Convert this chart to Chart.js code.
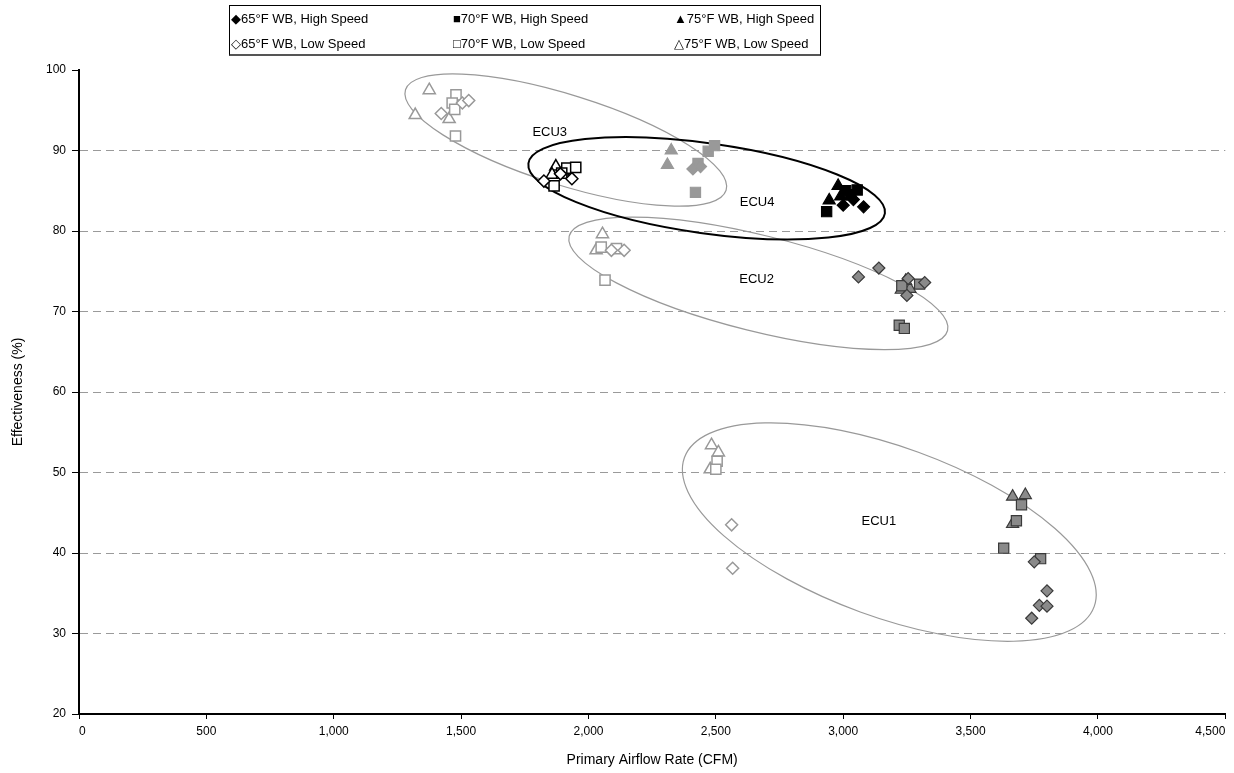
<!DOCTYPE html>
<html>
<head>
<meta charset="utf-8">
<script src="https://cdn.jsdelivr.net/npm/chart.js@4.4.1/dist/chart.umd.min.js"></script>
<style>
  html, body { margin: 0; padding: 0; background: #fff; overflow: hidden; }
  #wrap { position: relative; width: 1234px; height: 773px; overflow: hidden; }
  #chart { position: absolute; left: 0; top: 0; }
  #legend {
    position: absolute; left: 229px; top: 5px; width: 592px; height: 51px;
    border: 1px solid #000; border-bottom: 2px solid #555;
    font-family: "Liberation Sans", Arial, sans-serif; font-size: 13px; color: #000;
    display: grid; grid-template-columns: 222px 221px 147px; grid-template-rows: 25px 25px;
    align-items: center; box-sizing: border-box; padding-left: 1px;
  }
  #legend span { white-space: nowrap; }
</style>
</head>
<body>
<div id="wrap">
  <canvas id="chart" width="1234" height="773" style="width:1234px;height:773px"></canvas>
  <div id="legend"></div>
</div>
<script>
// Measured points, one array per test condition. u = unit the point belongs to.
const hi65 = [
  {x: 3750, y: 38.9, u: 'ECU1'}, {x: 3800, y: 35.3, u: 'ECU1'}, {x: 3770, y: 33.5, u: 'ECU1'},
  {x: 3800, y: 33.4, u: 'ECU1'}, {x: 3740, y: 31.9, u: 'ECU1'},
  {x: 3060, y: 74.3, u: 'ECU2'}, {x: 3140, y: 75.4, u: 'ECU2'}, {x: 3255, y: 74.1, u: 'ECU2'},
  {x: 3250, y: 72.0, u: 'ECU2'}, {x: 3320, y: 73.6, u: 'ECU2'},
  {x: 2410, y: 87.7, u: 'ECU3'}, {x: 2440, y: 88.0, u: 'ECU3'},
  {x: 3000, y: 83.2, u: 'ECU4'}, {x: 3080, y: 83.0, u: 'ECU4'}, {x: 3040, y: 83.9, u: 'ECU4'}
];
const hi70 = [
  {x: 3700, y: 46.0, u: 'ECU1'}, {x: 3680, y: 44.0, u: 'ECU1'}, {x: 3630, y: 40.6, u: 'ECU1'},
  {x: 3775, y: 39.3, u: 'ECU1'},
  {x: 3300, y: 73.4, u: 'ECU2'}, {x: 3230, y: 73.2, u: 'ECU2'}, {x: 3220, y: 68.3, u: 'ECU2'},
  {x: 3240, y: 67.9, u: 'ECU2'},
  {x: 2470, y: 89.9, u: 'ECU3'}, {x: 2495, y: 90.6, u: 'ECU3'}, {x: 2430, y: 88.4, u: 'ECU3'},
  {x: 2420, y: 84.8, u: 'ECU3'},
  {x: 2935, y: 82.4, u: 'ECU4'}, {x: 3010, y: 85.0, u: 'ECU4'}, {x: 3055, y: 85.1, u: 'ECU4'},
  {x: 3030, y: 84.5, u: 'ECU4'}
];
const hi75 = [
  {x: 3665, y: 47.0, u: 'ECU1'}, {x: 3715, y: 47.2, u: 'ECU1'}, {x: 3665, y: 43.6, u: 'ECU1'},
  {x: 3228, y: 72.7, u: 'ECU2'}, {x: 3262, y: 72.8, u: 'ECU2'}, {x: 3245, y: 73.8, u: 'ECU2'},
  {x: 2325, y: 90.0, u: 'ECU3'}, {x: 2310, y: 88.2, u: 'ECU3'},
  {x: 2980, y: 85.6, u: 'ECU4'}, {x: 2945, y: 83.8, u: 'ECU4'}, {x: 2990, y: 84.3, u: 'ECU4'}
];
const lo65 = [
  {x: 2562, y: 43.5, u: 'ECU1'}, {x: 2566, y: 38.1, u: 'ECU1'},
  {x: 2090, y: 77.6, u: 'ECU2'}, {x: 2140, y: 77.6, u: 'ECU2'},
  {x: 1505, y: 95.9, u: 'ECU3'}, {x: 1422, y: 94.6, u: 'ECU3'}, {x: 1530, y: 96.2, u: 'ECU3'},
  {x: 1825, y: 86.2, u: 'ECU4'}, {x: 1935, y: 86.5, u: 'ECU4'}, {x: 1890, y: 87.1, u: 'ECU4'}
];
const lo70 = [
  {x: 2505, y: 51.4, u: 'ECU1'}, {x: 2500, y: 50.4, u: 'ECU1'},
  {x: 2050, y: 78.0, u: 'ECU2'}, {x: 2110, y: 77.8, u: 'ECU2'}, {x: 2065, y: 73.9, u: 'ECU2'},
  {x: 1480, y: 96.9, u: 'ECU3'}, {x: 1465, y: 95.9, u: 'ECU3'}, {x: 1475, y: 95.1, u: 'ECU3'},
  {x: 1478, y: 91.8, u: 'ECU3'},
  {x: 1915, y: 87.8, u: 'ECU4'}, {x: 1950, y: 87.9, u: 'ECU4'}, {x: 1865, y: 85.6, u: 'ECU4'},
  {x: 1895, y: 87.2, u: 'ECU4'}
];
const lo75 = [
  {x: 2483, y: 53.4, u: 'ECU1'}, {x: 2510, y: 52.5, u: 'ECU1'}, {x: 2478, y: 50.4, u: 'ECU1'},
  {x: 2055, y: 79.6, u: 'ECU2'}, {x: 2030, y: 77.6, u: 'ECU2'},
  {x: 1375, y: 97.5, u: 'ECU3'}, {x: 1320, y: 94.4, u: 'ECU3'}, {x: 1453, y: 93.9, u: 'ECU3'},
  {x: 1872, y: 88.0, u: 'ECU4'}, {x: 1857, y: 87.0, u: 'ECU4'}, {x: 1900, y: 87.4, u: 'ECU4'}
];

const seriesNames = ['65°F WB, High Speed', '70°F WB, High Speed', '75°F WB, High Speed',
                     '65°F WB, Low Speed', '70°F WB, Low Speed', '75°F WB, Low Speed'];
const legendGlyphs = ['◆', '■', '▲', '◇', '□', '△'];
const xTicks = [0, 500, 1000, 1500, 2000, 2500, 3000, 3500, 4000, 4500];
const yTicks = [20, 30, 40, 50, 60, 70, 80, 90, 100];

// Unit groupings: centre in data units, semi-axes in px, tilt in degrees
const unitNames = ['ECU1', 'ECU2', 'ECU3', 'ECU4'];
const unitCentreX = [3181, 2667, 1911, 2464];
const unitCentreY = [42.6, 73.5, 91.3, 85.3];
const unitLabelX = [3140, 2660, 1848, 2662];
const unitLabelY = [43.9, 74.0, 92.3, 83.6];

const ellipseGeom = [
  {a: 218, b: 85, rot: 20, color: '#999', width: 1.2},
  {a: 195, b: 48, rot: 14, color: '#999', width: 1.2},
  {a: 168, b: 45, rot: 17.4, color: '#999', width: 1.2},
  {a: 180, b: 45, rot: 8, color: '#000', width: 2}
];

const GREY = '#999999';
const MID = '#8a8a8a';
function hiFill(u) { return u === 'ECU4' ? '#000' : (u === 'ECU3' ? GREY : MID); }
function hiLine(u) { return u === 'ECU4' ? '#000' : (u === 'ECU3' ? GREY : '#3a3a3a'); }
function loLine(u) { return u === 'ECU4' ? '#000' : GREY; }

const series = [hi65, hi70, hi75, lo65, lo70, lo75];
const styles = ['rectRot', 'rect', 'triangle', 'rectRot', 'rect', 'triangle'];
const radii = {rectRot: 6, rect: 7.2, triangle: 7};

const datasets = series.map((pts, i) => {
  const high = i < 3;
  return {
    label: seriesNames[i],
    data: pts,
    pointStyle: styles[i],
    pointRadius: radii[styles[i]],
    pointHoverRadius: radii[styles[i]],
    pointBorderWidth: high ? 1.2 : 1.5,
    pointBackgroundColor: c => high ? hiFill(c.raw.u) : '#fff',
    pointBorderColor: c => high ? hiLine(c.raw.u) : loLine(c.raw.u),
    showLine: false,
    order: high ? 1 : 2
  };
});

// HTML legend in three columns
const leg = document.getElementById('legend');
seriesNames.forEach((n, i) => {
  const s = document.createElement('span');
  s.textContent = legendGlyphs[i] + n;
  leg.appendChild(s);
});

const groupPlugin = {
  id: 'unitGroups',
  beforeDatasetsDraw(chart) {
    const {ctx, scales: {x, y}} = chart;
    ctx.save();
    unitNames.forEach((name, i) => {
      const g = ellipseGeom[i];
      const cx = x.getPixelForValue(unitCentreX[i]);
      const cy = y.getPixelForValue(unitCentreY[i]);
      ctx.beginPath();
      ctx.ellipse(cx, cy, g.a, g.b, g.rot * Math.PI / 180, 0, Math.PI * 2);
      ctx.strokeStyle = g.color;
      ctx.lineWidth = g.width;
      ctx.stroke();
    });
    ctx.fillStyle = '#000';
    ctx.font = '13px "Liberation Sans", Arial, sans-serif';
    ctx.textAlign = 'center';
    ctx.textBaseline = 'middle';
    unitNames.forEach((name, i) => {
      ctx.fillText(name, x.getPixelForValue(unitLabelX[i]), y.getPixelForValue(unitLabelY[i]));
    });
    ctx.restore();
  }
};

new Chart(document.getElementById('chart'), {
  type: 'scatter',
  data: {datasets},
  plugins: [groupPlugin],
  options: {
    responsive: false,
    animation: false,
    layout: {padding: {top: 70, right: 4, bottom: 0, left: 0}},
    plugins: {legend: {display: false}, tooltip: {enabled: false}},
    scales: {
      x: {
        type: 'linear', min: 0, max: 4500,
        afterBuildTicks: s => { s.ticks = xTicks.map(v => ({value: v})); },
        afterFit: s => { s.height = 59; },
        ticks: {
          color: '#000', padding: 5, align: 'inner',
          font: {family: '"Liberation Sans", Arial, sans-serif', size: 12},
          callback: v => v.toLocaleString('en-US'),
          maxRotation: 0, autoSkip: false
        },
        grid: {drawOnChartArea: false, drawTicks: true, tickLength: 5, tickColor: '#000', tickWidth: 1},
        border: {display: true, color: '#000', width: 2},
        title: {
          display: true, text: 'Primary Airflow Rate (CFM)', color: '#000',
          font: {family: '"Liberation Sans", Arial, sans-serif', size: 14}, padding: {top: 12}
        }
      },
      y: {
        type: 'linear', min: 20, max: 100,
        afterBuildTicks: s => { s.ticks = yTicks.map(v => ({value: v})); },
        afterFit: s => { s.width = 79; },
        ticks: {
          color: '#000', padding: 6,
          font: {family: '"Liberation Sans", Arial, sans-serif', size: 12}
        },
        grid: {
          drawTicks: true, tickLength: 7, tickColor: '#000', tickWidth: 1,
          color: c => (c.tick && (c.tick.value === 20 || c.tick.value === 100)) ? 'rgba(0,0,0,0)' : '#9a9a9a',
          lineWidth: 1
        },
        border: {display: true, color: '#000', width: 2, dash: [8, 5]},
        title: {
          display: true, text: 'Effectiveness (%)', color: '#000',
          font: {family: '"Liberation Sans", Arial, sans-serif', size: 14}, padding: {top: 10, bottom: 0}
        }
      }
    }
  }
});
</script>
</body>
</html>
